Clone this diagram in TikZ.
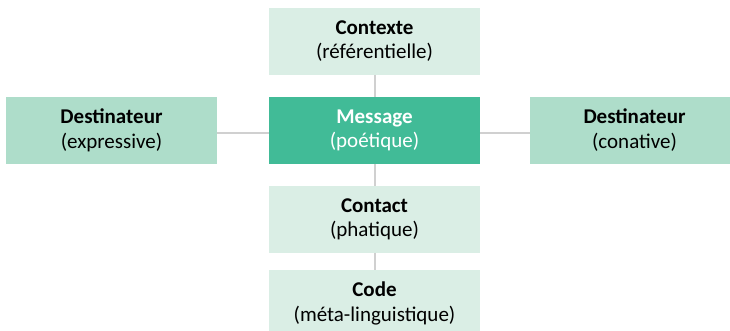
\documentclass[tikz,border=0pt]{standalone}
\usepackage{fontspec}
\setmainfont{Carlito}
\definecolor{msgc}{HTML}{41BB97}
\definecolor{destc}{HTML}{AEDDCA}
\definecolor{lightc}{HTML}{DAEEE5}
\definecolor{linec}{HTML}{D0D0D0}
\tikzset{
  box/.style={inner sep=0pt, minimum width=211pt, minimum height=66.7pt, align=center,
    font=\fontsize{21}{24.5}\selectfont},
  lightbox/.style={box, fill=lightc},
  destbox/.style={box, fill=destc},
  msgbox/.style={box, fill=msgc, text=white},
  conn/.style={draw=linec, line width=2pt},
}
\begin{document}
\begin{tikzpicture}[x=1pt,y=-1pt]
\useasboundingbox (0,0) rectangle (730,330);
\clip (0,0) rectangle (730,330);
\node[lightbox] (ctx) at (374.5,41.3) {\textbf{Contexte}\\(référentielle)};
\node[msgbox] (msg) at (374.5,130.3) {\textbf{Message}\\(poétique)};
\node[destbox] (dl) at (111.5,130.3) {\textbf{Destinateur}\\(expressive)};
\node[destbox, minimum width=209pt] (dr) at (634.5,130.3) {\textbf{Destinateur}\\(conative)};
\node[lightbox] (cont) at (374.5,219.3) {\textbf{Contact}\\(phatique)};
\node[lightbox] (code) at (374.5,303.3) {\textbf{Code}\\(méta-linguistique)};
\draw[conn] (ctx.south) -- (msg.north);
\draw[conn] (msg.south) -- (cont.north);
\draw[conn] (cont.south) -- (code.north);
\draw[conn] ([yshift=-2.5pt]dl.east) -- ([yshift=-2.5pt]msg.west);
\draw[conn] ([yshift=-2.5pt]msg.east) -- ([yshift=-2.5pt]dr.west);
\end{tikzpicture}
\end{document}
